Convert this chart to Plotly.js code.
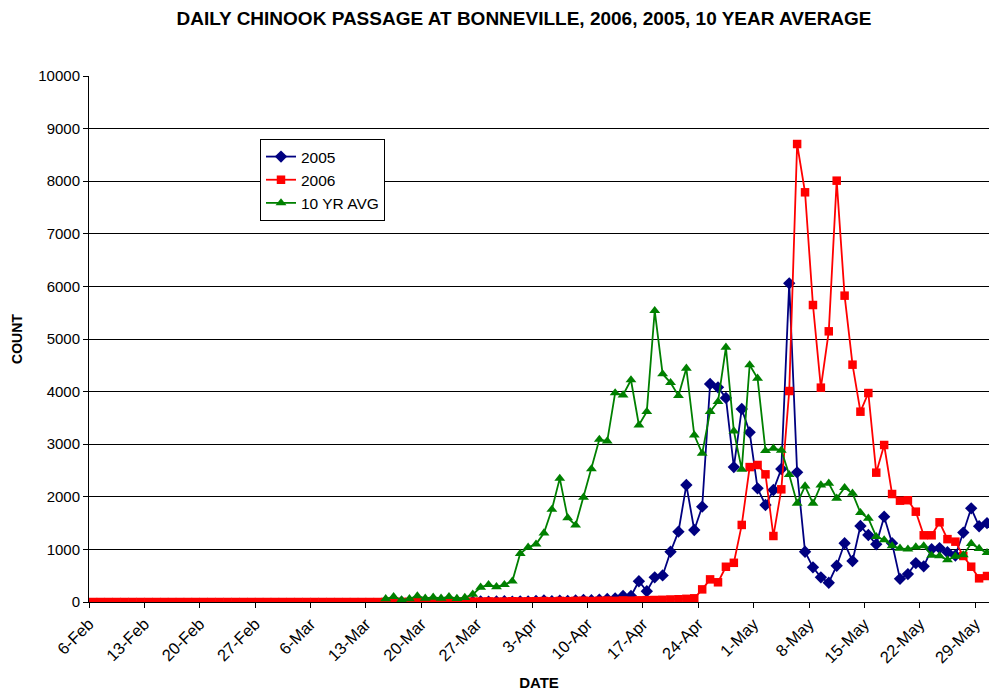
<!DOCTYPE html>
<html>
<head>
<meta charset="utf-8">
<script src="https://cdn.plot.ly/plotly-3.0.1.min.js"></script>
<style>
  html, body { margin: 0; padding: 0; background: #fff; }
  #chart { width: 989px; height: 696px; }
</style>
</head>
<body>
<div id="chart"></div>
<script>
// Category axis: one value per day
const START_2006 = '2006-02-06';   // first day of the 2006 series
const START_2005 = '2006-03-15';   // first day of the 2005 and 10-yr series
const tickDates = ['2006-02-06','2006-02-13','2006-02-20','2006-02-27','2006-03-06','2006-03-13',
  '2006-03-20','2006-03-27','2006-04-03','2006-04-10','2006-04-17','2006-04-24','2006-05-01',
  '2006-05-08','2006-05-15','2006-05-22','2006-05-29'];
const tickLabels = ['6-Feb','13-Feb','20-Feb','27-Feb','6-Mar','13-Mar','20-Mar','27-Mar','3-Apr',
  '10-Apr','17-Apr','24-Apr','1-May','8-May','15-May','22-May','29-May'];

// Daily counts
const count2006 = [
  0,0,0,0,0,0,0,0,0,0,0,0,0,0,0,0,0,0,0,0,0,0,0,0,0,0,0,0,0,0,0,0,0,0,0,0,0,
  3,5,2,4,6,3,5,8,4,6,10,7,9,12,8,10,14,11,13,
  15,18,12,20,16,22,25,18,24,28,22,30,26,32,35,
  38,42,48,52,60,70,
  240,430,375,670,745,1465,2565,2605,2427,1255,2142,4011,8707,7789,5646,4075,5146,8010,
  5824,4512,3618,3973,2459,2985,2053,1926,1935,1717,1268,1268,1515,1195,1147,875,671,450,494
];
const count2005 = [
  5,0,3,8,2,4,6,3,10,5,8,4,12,6,10,15,8,12,10,
  20,30,15,25,18,30,40,35,45,
  57,70,114,114,395,205,469,505,955,1337,2224,1369,1812,4144,4081,3880,2565,3670,3226,
  2161,1844,2129,2528,6058,2465,956,659,469,367,690,1116,779,1445,1274,1097,1622,1116,
  440,530,740,678,1005,1025,946,885,1320,1781,1440,1500
];
const avg10yr = [
  60,100,40,60,115,70,90,70,100,65,85,145,280,330,290,330,395,
  920,1040,1100,1310,1760,2350,1600,1460,1990,2530,3090,3060,3975,
  3935,4221,3365,3618,5538,4335,4170,3923,4443,3175,2827,3618,3808,4842,3251,2522,4506,
  4252,2877,2921,2885,2420,1876,
  2205,1876,2224,2256,1971,2173,2066,1698,1591,1242,1179,1065,1020,1004,1045,1065,885,
  875,799,868,894,1110,1015,937
];

// x positions: each day plotted at the middle of its category (noon)
function dayDates(start, n) {
  const out = [];
  const d0 = new Date(start + 'T12:00:00Z');
  for (let i = 0; i < n; i++) {
    const d = new Date(d0.getTime() + i * 86400000);
    out.push(d.toISOString().slice(0, 10) + ' 12:00');
  }
  return out;
}

const FONT = 'Liberation Sans, Arial, sans-serif';

const traces = [
  { name: '2005', x: dayDates(START_2005, count2005.length), y: count2005, type: 'scatter', mode: 'lines+markers',
    line: { color: '#000080', width: 1.8 }, marker: { symbol: 'diamond', size: 9.5, color: '#000080' } },
  { name: '2006', x: dayDates(START_2006, count2006.length), y: count2006, type: 'scatter', mode: 'lines+markers',
    line: { color: '#FF0000', width: 1.8 }, marker: { symbol: 'square', size: 8.5, color: '#FF0000' } },
  { name: '10 YR AVG', x: dayDates(START_2005, avg10yr.length), y: avg10yr, type: 'scatter', mode: 'lines+markers',
    line: { color: '#008000', width: 1.8 }, marker: { symbol: 'triangle-up', size: 9.5, color: '#008000' } }
];

const layout = {
  width: 989, height: 696,
  margin: { l: 89, r: 0, t: 76, b: 94 },
  paper_bgcolor: '#fff', plot_bgcolor: '#fff',
  font: { family: FONT, size: 12, color: '#000' },
  title: { text: '<b>DAILY CHINOOK PASSAGE AT BONNEVILLE, 2006, 2005, 10 YEAR AVERAGE</b>',
    font: { family: FONT, size: 19, color: '#000' }, x: 524 / 989, xanchor: 'center', xref: 'container',
    y: 1 - 18 / 696, yanchor: 'middle', yref: 'container' },
  xaxis: {
    type: 'date', range: ['2006-02-06', '2006-05-30 18:00'],
    tickvals: tickDates, ticktext: tickLabels, tickangle: -45,
    tickfont: { family: FONT, size: 16.5, color: '#000' },
    showgrid: false, zeroline: false, showline: true, linecolor: '#000', linewidth: 1,
    ticks: 'outside', ticklen: 5, tickcolor: '#000',
    title: { text: '<b>DATE</b>', font: { family: FONT, size: 15, color: '#000' }, standoff: 12 }
  },
  yaxis: {
    range: [0, 10000], dtick: 1000, tick0: 0, tickformat: 'd',
    tickfont: { family: FONT, size: 15, color: '#000' },
    showgrid: true, gridcolor: '#000', gridwidth: 1, zeroline: false,
    showline: true, linecolor: '#000', linewidth: 1,
    ticks: 'outside', ticklen: 5, tickcolor: '#000',
    title: { text: '<b>COUNT</b>', font: { family: FONT, size: 14, color: '#000' }, standoff: 12 }
  },
  legend: {
    x: (260 - 89) / 900, y: (602 - 139) / 526, xanchor: 'left', yanchor: 'top',
    bgcolor: '#fff', bordercolor: '#000', borderwidth: 1,
    font: { family: FONT, size: 15.5, color: '#000' }
  },
  showlegend: true
};

Plotly.newPlot('chart', traces, layout, { displayModeBar: false, staticPlot: true });
</script>
</body>
</html>
